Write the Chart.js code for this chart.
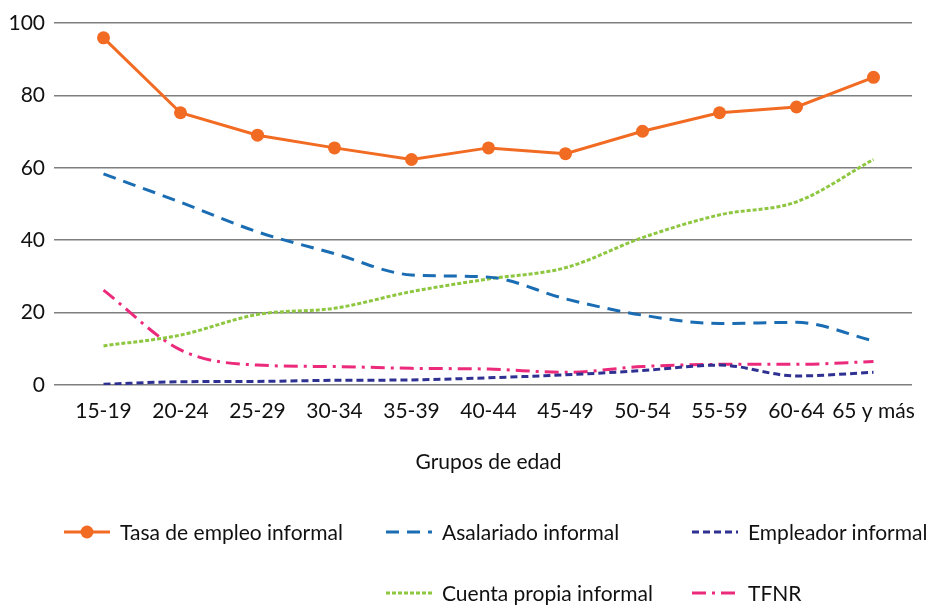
<!DOCTYPE html>
<html lang="es">
<head>
<meta charset="utf-8">
<title>Empleo informal por grupos de edad</title>
<script src="https://cdn.jsdelivr.net/npm/chart.js@4"></script>
<style>
  html, body { margin: 0; padding: 0; background: #fff; }
  #wrap { position: relative; width: 934px; height: 605px; font-family: Lato, "Open Sans", sans-serif; }
  #legend { position: absolute; left: 0; top: 0; width: 934px; height: 605px; pointer-events: none; }
  .item { position: absolute; display: flex; align-items: center; font-size: 21px; color: #111; white-space: nowrap; }
  .item svg { margin-right: 10px; }
</style>
</head>
<body>
<div id="wrap">
  <canvas id="chart" width="934" height="605"></canvas>
  <div id="legend"></div>
</div>
<script>
const ageGroups = ["15-19", "20-24", "25-29", "30-34", "35-39", "40-44", "45-49", "50-54", "55-59", "60-64", "65 y más"];
const tasaInformal = [95.9, 75.2, 69.0, 65.5, 62.3, 65.5, 63.9, 70.1, 75.2, 76.8, 85.0];
const asalariadoInformal = [58.3, 50.5, 42.3, 36.3, 30.4, 29.8, 23.8, 19.3, 17.0, 17.3, 12.2];
const empleadorInformal = [0.2, 0.9, 1.0, 1.3, 1.4, 2.0, 2.8, 4.0, 5.5, 2.5, 3.5];
const cuentaPropiaInformal = [10.8, 13.8, 19.5, 21.2, 25.8, 29.3, 32.4, 40.7, 47.0, 50.6, 62.3];
const tfnr = [26.2, 9.7, 5.5, 5.1, 4.6, 4.4, 3.5, 5.1, 5.7, 5.7, 6.5];
const yMax = 100;
const yStep = 20;

const FONT = "Lato, 'Open Sans', sans-serif";
Chart.defaults.font.family = FONT;
Chart.defaults.font.size = 21;
Chart.defaults.color = "#111";

const smooth = { tension: 0.3, cubicInterpolationMode: "monotone", pointRadius: 0, borderWidth: 3, fill: false };

const datasets = [
  {
    label: "Tasa de empleo informal",
    data: tasaInformal,
    borderColor: "#f26b23",
    backgroundColor: "#f26b23",
    borderWidth: 3,
    pointRadius: 6.5,
    pointHoverRadius: 6.5,
    pointBorderWidth: 0,
    tension: 0,
    order: 0,
  },
  { ...smooth, label: "Asalariado informal", data: asalariadoInformal, borderColor: "#1b6db3", borderDash: [13, 8], order: 1 },
  { ...smooth, label: "Empleador informal", data: empleadorInformal, borderColor: "#2e3192", borderDash: [7, 4], order: 2 },
  { ...smooth, label: "Cuenta propia informal", data: cuentaPropiaInformal, borderColor: "#8dc63f", borderDash: [4, 2], order: 3 },
  { ...smooth, label: "TFNR", data: tfnr, borderColor: "#ec2a7b", borderDash: [14, 6, 3, 6], order: 4 },
];

new Chart(document.getElementById("chart"), {
  type: "line",
  data: { labels: ageGroups, datasets: datasets },
  options: {
    responsive: false,
    animation: false,
    layout: { padding: { top: 23, right: 22, bottom: 125, left: 10 } },
    plugins: { legend: { display: false }, tooltip: { enabled: false } },
    scales: {
      x: {
        offset: true,
        grid: { display: false, drawTicks: false },
        border: { display: false },
        ticks: { padding: 14, maxRotation: 0, autoSkip: false },
        title: { display: true, text: "Grupos de edad", padding: { top: 0, bottom: 5 } },
        afterFit: (scale) => { scale.height = 95; },
      },
      y: {
        min: 0,
        max: yMax,
        ticks: { stepSize: yStep, padding: 9 },
        grid: { color: "#7f7f7f", lineWidth: 1.5, drawTicks: true, tickLength: 11 },
        border: { display: false },
        afterFit: (scale) => { scale.width = 55; },
      },
    },
  },
});

// legend laid out in two rows, three columns
const legendSlots = [[64, 531], [386, 531], [692, 531], [386, 592], [692, 592]];
const legendBox = document.getElementById("legend");
datasets.forEach((ds, i) => {
  const [x, y] = legendSlots[i];
  const dash = ds.borderDash ? ds.borderDash.join(" ") : "";
  const marker = ds.pointRadius ? `<circle cx="23" cy="11" r="6.5" fill="${ds.borderColor}"/>` : "";
  const item = document.createElement("div");
  item.className = "item";
  item.style.left = x + "px";
  item.style.top = (y - 12) + "px";
  item.innerHTML =
    `<svg width="46" height="22"><line x1="0" y1="11" x2="46" y2="11" stroke="${ds.borderColor}" stroke-width="3" stroke-dasharray="${dash}"/>${marker}</svg>` +
    `<span>${ds.label}</span>`;
  legendBox.appendChild(item);
});
</script>
</body>
</html>
